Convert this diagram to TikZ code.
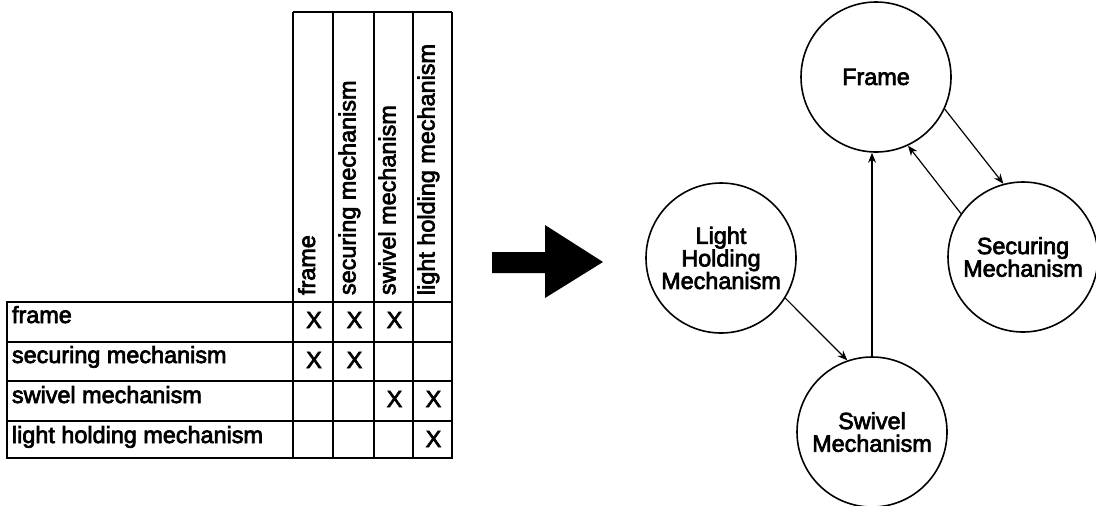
\documentclass[tikz,border=0pt]{standalone}
\usepackage{fontspec}
\setmainfont{Liberation Sans}[BoldFont={Liberation Sans}, BoldFeatures={FakeBold=3}]
\usetikzlibrary{arrows.meta}
\tikzset{
  txt/.style={font=\bfseries\fontsize{11.7}{11.3}\selectfont, inner sep=0pt, outer sep=0pt},
  rowlbl/.style={txt, anchor=base west},
  collbl/.style={txt, anchor=base west, rotate=90},
  xmark/.style={txt, anchor=base},
  grid/.style={line width=0.9pt},
  comp/.style={circle, draw, line width=0.8pt, minimum size=75pt, inner sep=0pt, align=center, font=\bfseries\fontsize{11.7}{11.3}\selectfont},
  link/.style={line width=0.6pt, -{Stealth[length=5pt,width=4pt]}},
}
\begin{document}
\begin{tikzpicture}[x=0.5pt,y=-0.5pt]
\useasboundingbox (0,0) rectangle (1096,505);
% --- matrix grid
\draw[grid] (7,302) rectangle (452,458);
\draw[grid] (293,12) -- (452,12);
\foreach \yy in {342,381,421} \draw[grid] (7,\yy) -- (452,\yy);
\foreach \xx in {293,333,374,413,452} \draw[grid] (\xx,12) -- (\xx,458);
% --- row labels
\node[rowlbl] (r1) at (12,323) {frame};
\node[rowlbl] (r2) at (12,363) {securing mechanism};
\node[rowlbl] (r3) at (12,403) {swivel mechanism};
\node[rowlbl] (r4) at (12,443) {light holding mechanism};
% --- column labels
\node[collbl] (c1) at (315,295) {frame};
\node[collbl] (c2) at (355.5,295) {securing mechanism};
\node[collbl] (c3) at (395.5,295) {swivel mechanism};
\node[collbl] (c4) at (434.5,295) {light holding mechanism};
% --- marks
\node[xmark] (m11) at (314,328) {X};
\node[xmark] (m12) at (354.5,328) {X};
\node[xmark] (m13) at (394.5,328) {X};
\node[xmark] (m21) at (314,368) {X};
\node[xmark] (m22) at (354.5,368) {X};
\node[xmark] (m33) at (394.5,407) {X};
\node[xmark] (m34) at (433.5,407) {X};
\node[xmark] (m44) at (433.5,447) {X};
% --- big arrow
\fill (492,252) -- (545,252) -- (545,225) -- (603,262) -- (545,298) -- (545,273) -- (492,273) -- cycle;
% --- graph
\node[comp] (frame) at (876,77) {Frame};
\node[comp] (light) at (721,258) {Light\\Holding\\Mechanism};
\node[comp] (secur) at (1023,257) {Securing\\Mechanism};
\node[comp] (swivel) at (872,432) {Swivel\\Mechanism};
\draw[link] (frame.-25.6) -- (secur.105.8);
\draw[link] (secur.145.2) -- (frame.-65.5);
\draw[link] (swivel.north) -- (swivel.north |- frame.south);
\draw[link] (light.-32) -- (swivel.109.4);
\end{tikzpicture}
\end{document}
